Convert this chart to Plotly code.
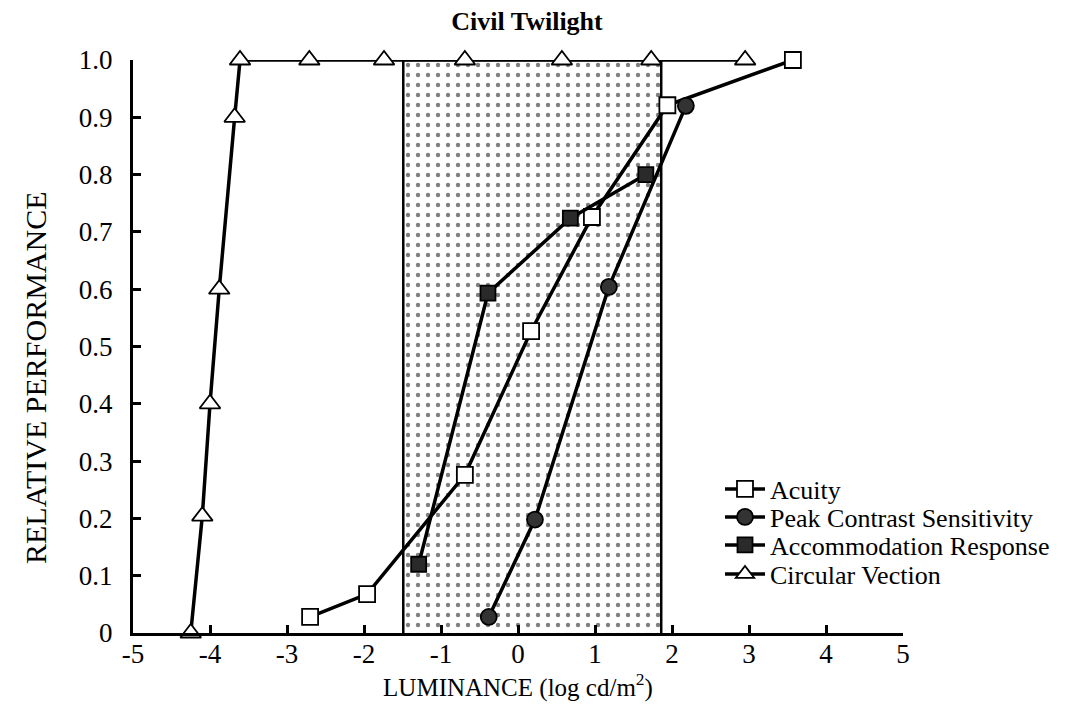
import plotly.graph_objects as go

# ---- data ----
acuity_x = [-2.70, -1.96, -0.69, 0.17, 0.96, 1.94, 3.57]
acuity_y = [0.028, 0.068, 0.276, 0.527, 0.726, 0.921, 1.0]

pcs_x = [-0.38, 0.22, 1.18, 2.18]
pcs_y = [0.028, 0.198, 0.604, 0.92]

acc_x = [-1.29, -0.39, 0.68, 1.66]
acc_y = [0.12, 0.593, 0.724, 0.80]

cv_x = [-4.25, -4.10, -4.00, -3.88, -3.68, -3.61, -2.71, -1.74, -0.69, 0.57, 1.73, 2.95]
cv_y = [0.0, 0.204, 0.40, 0.60, 0.90, 1.0, 1.0, 1.0, 1.0, 1.0, 1.0, 1.0]

twilight_range = [-1.49, 1.86]

x_ticks = [-5, -4, -3, -2, -1, 0, 1, 2, 3, 4, 5]
x_ticktext = ["-5", "-4", "-3", "-2", "-1", "0", "1", "2", "3", "4", "5"]
y_ticks = [0, 0.1, 0.2, 0.3, 0.4, 0.5, 0.6, 0.7, 0.8, 0.9, 1.0]
y_ticktext = ["0", "0.1", "0.2", "0.3", "0.4", "0.5", "0.6", "0.7", "0.8", "0.9", "1.0"]

FONT = "Liberation Serif, Times New Roman, serif"

W, H = 1068, 714
L, R, T, B = 125, 173, 52, 89
plot_h = H - T - B
plot_w = W - L - R


def py_to_paper(py):
    return (H - B - py) / plot_h


def px_to_paper(px):
    return (px - L) / plot_w


fig = go.Figure()

# shaded civil-twilight band (dotted pattern)
fig.add_trace(go.Scatter(
    x=[twilight_range[0], twilight_range[0], twilight_range[1], twilight_range[1]],
    y=[0, 1, 1, 0],
    mode="lines",
    line=dict(color="black", width=2.5),
    fill="toself",
    fillcolor="white",
    fillpattern=dict(shape=".", size=10, solidity=0.15, fgcolor="black", bgcolor="white"),
    showlegend=False,
    hoverinfo="skip",
))

line_w = 3.5
series = [
    ("Acuity", acuity_x, acuity_y, dict(symbol="square", size=16, color="white"), "legend"),
    ("Peak Contrast Sensitivity", pcs_x, pcs_y, dict(symbol="circle", size=16, color="#333333"), "legend2"),
    ("Accommodation Response", acc_x, acc_y, dict(symbol="square", size=15, color="#2a2a2a"), "legend3"),
    ("Circular Vection", cv_x, cv_y, dict(symbol="triangle-up", size=18, color="white"), "legend4"),
]
for name, xs, ys, mk, lg in series:
    mk = dict(mk, line=dict(color="black", width=1.8))
    fig.add_trace(go.Scatter(
        x=xs, y=ys, name=name, mode="lines+markers",
        line=dict(color="black", width=line_w),
        marker=mk, cliponaxis=False, legend=lg,
    ))

legend_rows_px = [481, 509, 537, 566]
legend_common = dict(xanchor="left", yanchor="middle", bgcolor="rgba(0,0,0,0)",
                     font=dict(family=FONT, size=26, color="black"), itemwidth=40)
legends = {}
for i, py in enumerate(legend_rows_px):
    key = "legend" if i == 0 else f"legend{i + 1}"
    legends[key] = dict(legend_common, x=px_to_paper(712), y=py_to_paper(py))

fig.update_layout(
    width=W, height=H,
    margin=dict(l=L, r=R, t=T, b=B),
    paper_bgcolor="white", plot_bgcolor="white",
    font=dict(family=FONT, size=26, color="black"),
    title=dict(text="<b>Civil Twilight</b>", x=px_to_paper(519), xref="paper", xanchor="center",
               y=1 - 13 / H, yanchor="middle", yref="container",
               font=dict(family=FONT, size=26, color="black")),
    xaxis=dict(
        range=[-5, 5], tickvals=x_ticks, ticktext=x_ticktext, ticks="inside", ticklen=8,
        tickwidth=2.5, tickcolor="black", showline=True, linecolor="black", linewidth=3,
        showgrid=False, zeroline=False, ticklabelstandoff=-5,
        tickfont=dict(family=FONT, size=27),
        title=dict(text="LUMINANCE (log cd/m<sup>2</sup>)", standoff=0,
                   font=dict(family=FONT, size=25)),
    ),
    yaxis=dict(
        range=[0, 1.0], tickvals=y_ticks, ticktext=y_ticktext, ticks="inside",
        ticklen=8, tickwidth=2.5, tickcolor="black", showline=True, linecolor="black",
        linewidth=3, showgrid=False, zeroline=False, ticklabelstandoff=12,
        tickfont=dict(family=FONT, size=27),
    ),
    annotations=[dict(
        text="RELATIVE PERFORMANCE", textangle=-90, xref="paper", yref="paper",
        x=px_to_paper(27), y=py_to_paper(370), xanchor="center", yanchor="middle",
        showarrow=False, font=dict(family=FONT, size=30, color="black"),
    )],
    **legends,
)

fig.write_html("out.html")
